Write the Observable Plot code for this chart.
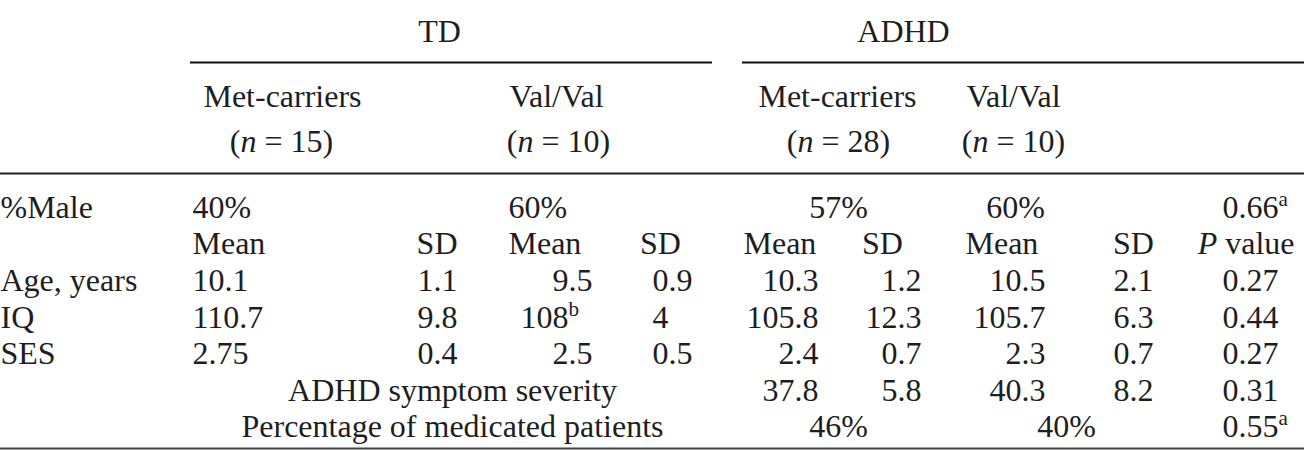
<!DOCTYPE html>
<html><head><meta charset="utf-8">
<script src="https://cdn.jsdelivr.net/npm/d3@7"></script>
<script src="https://cdn.jsdelivr.net/npm/@observablehq/plot@0.6"></script>
<style>html,body{margin:0;padding:0;background:#fff;overflow:hidden}</style>
</head><body><div id="chart"></div>
<script>
// ---------- data ----------
const groups = ["TD", "ADHD"];
const genotypes = ["Met-carriers", "Val/Val", "Met-carriers", "Val/Val"];
const sampleSizes = [15, 10, 28, 10];
const percentMale = ["40%", "60%", "57%", "60%"];
const percentMaleP = "0.66";
const measures = ["Age, years", "IQ", "SES"];
const tdMetMean = ["10.1", "110.7", "2.75"];
const tdMetSD = ["1.1", "9.8", "0.4"];
const tdValMean = ["9.5", "108", "2.5"];
const tdValMeanNotes = ["", "b", ""];
const tdValSD = ["0.9", "4", "0.5"];
const severityLabel = "ADHD symptom severity";
const adhdMetMean = ["10.3", "105.8", "2.4", "37.8"];
const adhdMetSD = ["1.2", "12.3", "0.7", "5.8"];
const adhdValMean = ["10.5", "105.7", "2.3", "40.3"];
const adhdValSD = ["2.1", "6.3", "0.7", "8.2"];
const pValues = ["0.27", "0.44", "0.27", "0.31"];
const medicatedLabel = "Percentage of medicated patients";
const medicated = ["46%", "40%"];
const medicatedP = "0.55";
const noteA = "a";

// ---------- layout ----------
const W = 1304, H = 450, FS = 32;
const rowY = {group: 31, geno: 96, n: 141, male: 207, stat: 243, age: 280, iq: 317, ses: 353, sev: 390, med: 426};
const measureRows = [rowY.age, rowY.iq, rowY.ses];
const adhdRows = [rowY.age, rowY.iq, rowY.ses, rowY.sev];
const groupCenter = [439, 903];
const groupSpan = [[190, 712], [742, W]];
const genoCenter = [282, 556, 837, 1013];
const nCenter = [281, 558, 838, 1013];
const rules = {group: 62, head: 173, foot: 448};
const dec = {tdMetSD: 433, tdValMean: 568, tdValSD: 668, adhdMetMean: 794, adhdMetSD: 897, adhdValMean: 1021, adhdValSD: 1129};
const leftTdMet = 192, leftTdVal = 508, pStart = 1222;

const cells = [];
const add = (text, x, y, anchor) => cells.push({text, x, y, anchor});
function decimal(v, dx, y, note) {
  const [i, f] = String(v).split(".");
  add(i, dx, y, "end");
  const frac = (f !== undefined ? "." + f : "") + (note ? "^" + note : "");
  if (frac) add(frac, dx, y, "start");
}

// header
groups.forEach((g, k) => add(g, groupCenter[k], rowY.group, "middle"));
genotypes.forEach((g, k) => add(g, genoCenter[k], rowY.geno, "middle"));
sampleSizes.forEach((n, k) => add(`(*n* = ${n})`, nCenter[k], rowY.n, "middle"));

// %Male
add("%Male", 0, rowY.male, "start");
add(percentMale[0], leftTdMet, rowY.male, "start");
add(percentMale[1], leftTdVal, rowY.male, "start");
add(percentMale[2], 838, rowY.male, "middle");
add(percentMale[3], 1015, rowY.male, "middle");
add(percentMaleP + "^" + noteA, pStart, rowY.male, "start");

// stat header
add("Mean", leftTdMet, rowY.stat, "start");
add("SD", 457, rowY.stat, "end");
add("Mean", leftTdVal, rowY.stat, "start");
add("SD", 660, rowY.stat, "middle");
add("Mean", 743, rowY.stat, "start");
add("SD", 882, rowY.stat, "middle");
add("Mean", 965, rowY.stat, "start");
add("SD", 1133, rowY.stat, "middle");
add("*P* value", 1294, rowY.stat, "end");

// measures
measures.forEach((m, k) => {
  const y = measureRows[k];
  add(m, 0, y, "start");
  add(tdMetMean[k], leftTdMet, y, "start");
  decimal(tdMetSD[k], dec.tdMetSD, y);
  decimal(tdValMean[k], dec.tdValMean, y, tdValMeanNotes[k]);
  decimal(tdValSD[k], dec.tdValSD, y);
});
adhdRows.forEach((y, k) => {
  decimal(adhdMetMean[k], dec.adhdMetMean, y);
  decimal(adhdMetSD[k], dec.adhdMetSD, y);
  decimal(adhdValMean[k], dec.adhdValMean, y);
  decimal(adhdValSD[k], dec.adhdValSD, y);
  add(pValues[k], pStart, y, "start");
});
add(severityLabel, 452, rowY.sev, "middle");

// medicated
add(medicatedLabel, 452, rowY.med, "middle");
add(medicated[0], 838, rowY.med, "middle");
add(medicated[1], 1066, rowY.med, "middle");
add(medicatedP + "^" + noteA, pStart, rowY.med, "start");

const ruleData = [
  {y: rules.group, x1: groupSpan[0][0], x2: groupSpan[0][1], w: 2.2, c: "#111"},
  {y: rules.group, x1: groupSpan[1][0], x2: groupSpan[1][1], w: 2.2, c: "#111"},
  {y: rules.head, x1: 0, x2: W, w: 2.2, c: "#222"},
  {y: rules.foot, x1: 0, x2: W, w: 2, c: "#444"}
];

const textMark = a => Plot.text(cells.filter(d => d.anchor === a), {
  x: "x", y: "y", text: "text", textAnchor: a, lineAnchor: "middle",
  fill: "#1e1e1e", fontSize: FS, fontFamily: "Liberation Serif"
});

const chart = Plot.plot({
  width: W, height: H, margin: 0,
  x: {domain: [0, W], range: [0, W], axis: null},
  y: {domain: [0, H], range: [0, H], axis: null},
  style: {background: "white", fontFamily: "Liberation Serif"},
  marks: [
    Plot.ruleY(ruleData, {y: "y", x1: "x1", x2: "x2", strokeWidth: d => d.w, stroke: d => d.c}),
    textMark("start"), textMark("middle"), textMark("end")
  ]
});

// rich text: *italic* and ^superscript
chart.querySelectorAll("text").forEach(t => {
  const s = t.textContent;
  if (!/[*^]/.test(s)) return;
  t.textContent = "";
  const parts = s.split(/(\*[^*]+\*|\^[a-z]+)/).filter(p => p !== "");
  for (const p of parts) {
    const ts = document.createElementNS("http://www.w3.org/2000/svg", "tspan");
    if (p.startsWith("*")) { ts.textContent = p.slice(1, -1); ts.setAttribute("font-style", "italic"); }
    else if (p.startsWith("^")) { ts.textContent = p.slice(1); ts.setAttribute("font-size", "0.66em"); ts.setAttribute("dy", "-0.55em"); }
    else ts.textContent = p;
    t.appendChild(ts);
  }
});
document.getElementById("chart").appendChild(chart);
</script>
</body></html>
